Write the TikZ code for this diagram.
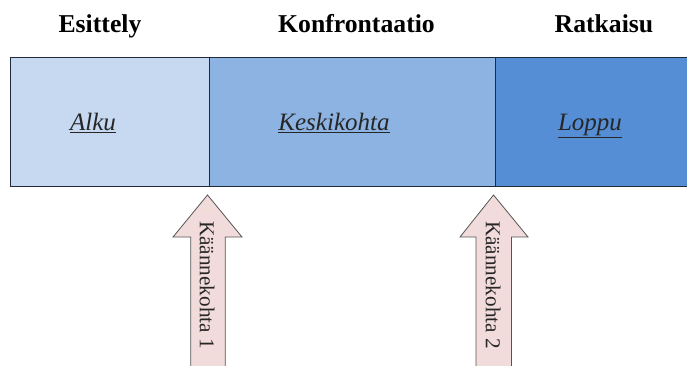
\documentclass[tikz,border=0pt]{standalone}
\usepackage{fontspec}
\setmainfont{Liberation Serif}
\definecolor{alkuc}{HTML}{C6D9F1}
\definecolor{keskic}{HTML}{8DB3E2}
\definecolor{loppuc}{HTML}{558ED5}
\definecolor{edgec}{HTML}{1F2A3A}
\definecolor{arrowc}{HTML}{F2DCDB}
\definecolor{arrowedge}{HTML}{555555}
\tikzset{
  part/.style={draw=edgec, line width=1pt},
  heading/.style={font=\bfseries\fontsize{25.7}{28}\selectfont, text=black, anchor=base, inner sep=0pt},
  label/.style={font=\itshape\fontsize{25}{27}\selectfont, text=black!85, anchor=base, inner sep=0pt},
  turn/.style={fill=arrowc, draw=arrowedge, line width=0.8pt},
  turntext/.style={font=\fontsize{21.2}{23}\selectfont, rotate=-90, text=black!85}
}
\begin{document}
\begin{tikzpicture}[x=1pt,y=-1pt]
\useasboundingbox (0,0) rectangle (687,365);
\clip (0,0) rectangle (687,365);
% headings
\node[heading] (h1) at (100,32) {Esittely};
\node[heading] (h2) at (356.5,32) {Konfrontaatio};
\node[heading] (h3) at (604,32) {Ratkaisu};
% bar
\path[fill=alkuc] (10.5,57) rectangle (209,186);
\path[fill=keskic] (209,57) rectangle (495,186);
\path[fill=loppuc] (495,57) rectangle (690,186);
\draw[part] (690,57) -- (10.5,57) -- (10.5,186) -- (690,186);
\draw[part] (209,57) -- (209,186);
\draw[part] (495,57) -- (495,186);
\node[label] (alku) at (93,130.5) {\underline{Alku}};
\node[label] (kesk) at (334,130.5) {\underline{Keskikohta}};
\node[label] (lopp) at (590,130.5) {\underline{Loppu}};
% turning point arrows
\draw[turn] (207.5,195) -- (242,237) -- (225.3,237) -- (225.3,372) -- (190.7,372) -- (190.7,237) -- (173,237) -- cycle;
\node[turntext] (k1) at (207,285) {Käännekohta 1};
\draw[turn] (493.5,195) -- (528,237) -- (511.5,237) -- (511.5,372) -- (476,372) -- (476,237) -- (460,237) -- cycle;
\node[turntext] (k2) at (493,285) {Käännekohta 2};
\end{tikzpicture}
\end{document}
